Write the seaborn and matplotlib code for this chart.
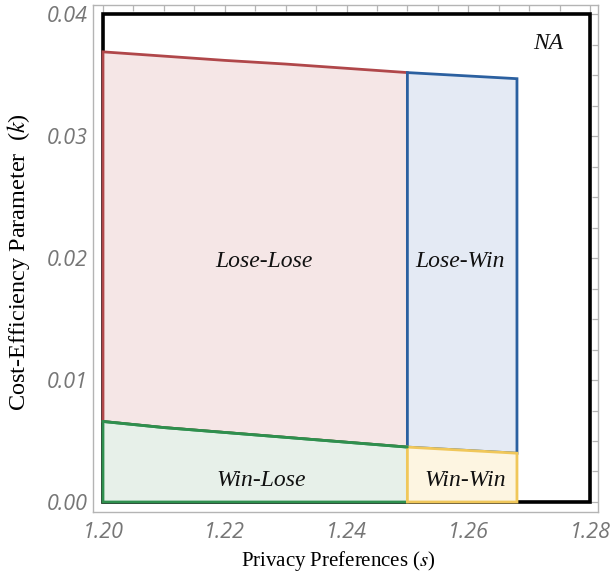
import numpy as np
import pandas as pd
import matplotlib
matplotlib.use("Agg")
import matplotlib.pyplot as plt
from matplotlib.ticker import MultipleLocator
import seaborn as sns

# ─────────────────────────────────────────────
# DATA
# ─────────────────────────────────────────────
S_MID = 1.25

# upper boundary of the Lose-Lose / Lose-Win region
upper_s = [1.200, 1.210, 1.220, 1.230, 1.240, 1.250, 1.268]
upper_k = [0.0369, 0.03655, 0.0362, 0.0359, 0.03555, 0.0352, 0.0347]

# boundary between Win-* and Lose-* (slightly convex)
lower_k = [0.0066, 0.0061, 0.0057, 0.0053, 0.0049, 0.0045, 0.0040]

region_names    = ["Lose-Lose", "Lose-Win", "Win-Lose", "Win-Win"]
region_labels_s = [1.2264, 1.2586, 1.2260, 1.2595]
region_labels_k = [0.0197, 0.0197, 0.0018, 0.0018]

fills = ["#f5e6e6", "#e4eaf4", "#e7f0e9", "#fdf5e1"]
edges = ["#b0474a", "#2b60a0", "#2f8f4e", "#f0c75a"]

x_ticks = [1.20, 1.22, 1.24, 1.26, 1.28]
y_ticks = [0.00, 0.01, 0.02, 0.03, 0.04]

# ─────────────────────────────────────────────
sns.set_theme(style="white")
plt.rcParams["mathtext.fontset"] = "stix"

fig = plt.figure(figsize=(6.10, 5.78), dpi=100)
ax = fig.add_axes([93 / 610, 1 - 512 / 578, 505 / 610, 507 / 578])

df = pd.DataFrame({"s": upper_s, "up": upper_k, "lo": lower_k})
left = df[df["s"] <= S_MID]
right = df[df["s"] >= S_MID]

def poly(part, top, bottom):
    xs = list(part["s"]) + list(part["s"])[::-1]
    ys = list(top) + list(bottom)[::-1]
    return xs, ys

polys = [
    poly(left, left["up"], left["lo"]),
    poly(right, right["up"], right["lo"]),
    poly(left, left["lo"], np.zeros(len(left))),
    poly(right, right["lo"], np.zeros(len(right))),
]

# NA outline (whole plotted domain)
ax.fill([1.20, 1.28, 1.28, 1.20], [0, 0, 0.04, 0.04], facecolor="white",
        edgecolor="black", linewidth=2.6, zorder=1)

for (xs, ys), fc, ec in zip(polys, fills, edges):
    ax.fill(xs, ys, facecolor=fc, edgecolor=ec, linewidth=2.0,
            joinstyle="miter", zorder=2)

# shared boundary drawn through seaborn so the edge reads on top
sns.lineplot(x=left["s"], y=left["lo"], ax=ax, color=edges[2], linewidth=2.0,
             zorder=3, estimator=None, sort=False)

label_font = dict(fontsize=17, fontstyle="italic", family="Liberation Serif",
                  color="#111111", zorder=4, ha="center", va="center")
for name, s, k in zip(region_names, region_labels_s, region_labels_k):
    ax.text(s, k, name, **label_font)
ax.text(1.2731, 0.0376, "NA", **label_font)

ax.set_xlim(1.19836, 1.28131)
ax.set_ylim(-0.00082, 0.04074)

ax.set_xticks(x_ticks)
ax.set_yticks(y_ticks)
ax.set_xticklabels([f"{v:.2f}" for v in x_ticks])
ax.set_yticklabels([f"{v:.2f}" for v in y_ticks])
ax.xaxis.set_minor_locator(MultipleLocator(0.005))
ax.yaxis.set_minor_locator(MultipleLocator(0.0025))

frame_grey = "#b4b4b4"
for sp in ax.spines.values():
    sp.set_color(frame_grey)
    sp.set_linewidth(1.0)

ax.tick_params(which="both", direction="in", top=True, right=True,
               color=frame_grey, width=0.9)
ax.tick_params(which="major", length=7)
ax.tick_params(which="minor", length=4)
ax.tick_params(axis="x", which="major", pad=7)
ax.tick_params(axis="y", which="major", pad=3.5)
for lab in ax.get_xticklabels() + ax.get_yticklabels():
    lab.set_fontstyle("italic")
    lab.set_fontsize(15.5)
    lab.set_color("#767676")
    lab.set_family("Open Sans")

ax.set_xlabel("Privacy Preferences ($s$)", fontsize=15, family="Liberation Serif",
              color="black")
ax.set_ylabel("Cost-Efficiency Parameter  ($k$)", fontsize=17.5,
              family="Liberation Serif", color="black")
ax.xaxis.set_label_coords(0.485, -0.072)
ax.yaxis.set_label_coords(-0.12, 0.492)

fig.savefig("out.png", dpi=100)
